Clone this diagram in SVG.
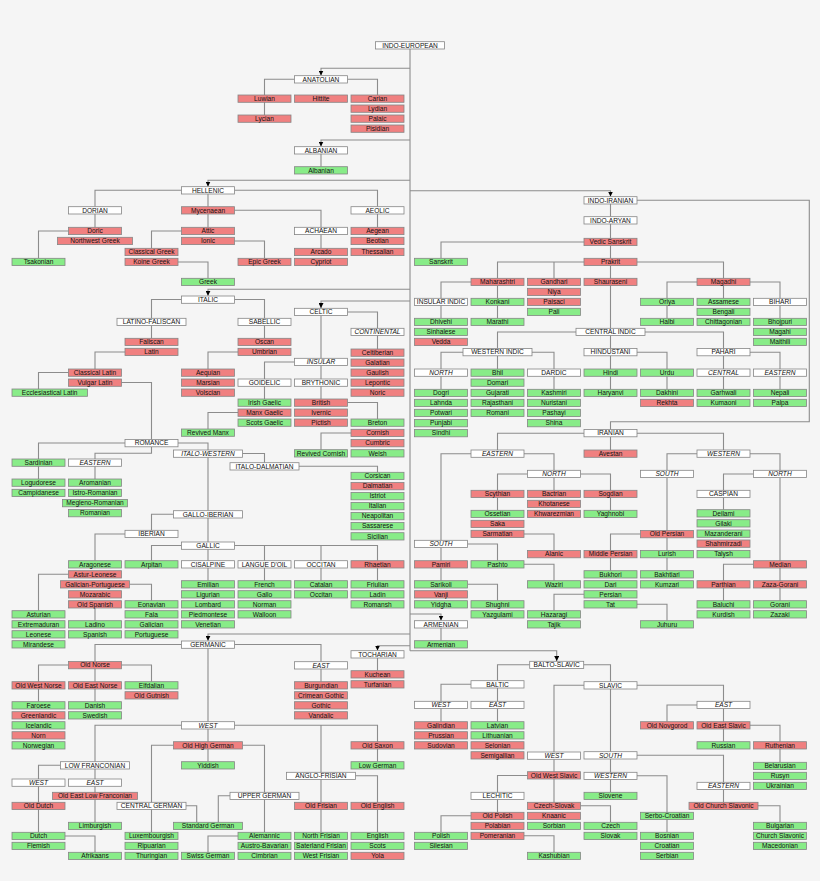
<svg xmlns="http://www.w3.org/2000/svg" width="820" height="881" viewBox="0 0 820 881">
<style>
rect.bg{fill:#f5f5f5;stroke:none}
g rect{stroke:#858585;stroke-width:.8}
.w rect{fill:#fff}
.r rect{fill:#f08080}
.g rect{fill:#88ec88}
text{font-family:"Liberation Sans",Arial,sans-serif;font-size:6.6px;text-anchor:middle;fill:#111}
.i text{font-style:italic}
.c{fill:none;stroke:#8c8c8c;stroke-width:1.1}
</style>
<defs>
<marker id="ar" viewBox="0 0 10 10" refX="10" refY="5" markerWidth="5" markerHeight="5" orient="auto" markerUnits="userSpaceOnUse"><path d="M0 0L10 5L0 10Z" fill="#000"/></marker>
</defs>
<rect class="bg" x="0" y="0" width="820" height="881"/>
<g id="connectors">
<path class="c" d="M410 49V650.7"/>
<path class="c" marker-end="url(#ar)" d="M410 68.3H321V75.5"/>
<path class="c" marker-end="url(#ar)" d="M410 140H321V146.5"/>
<path class="c" marker-end="url(#ar)" d="M410 180.3H208V186.5"/>
<path class="c" marker-end="url(#ar)" d="M410 190.7H610.5V196.5"/>
<path class="c" marker-end="url(#ar)" d="M410 289.3H208V295.8"/>
<path class="c" marker-end="url(#ar)" d="M410 301H321V308.1"/>
<path class="c" marker-end="url(#ar)" d="M410 614H441V620.5"/>
<path class="c" marker-end="url(#ar)" d="M410 634H208V640.8"/>
<path class="c" marker-end="url(#ar)" d="M410 645.7H377.5V650.5"/>
<path class="c" marker-end="url(#ar)" d="M410 650.7H556.7V661.1"/>
<path class="c" d="M294.5 79.3H264.5V115M347.5 79.3H377.5V95M321 154V166.7"/>
<path class="c" d="M181.5 190.3H95V206.7M234.5 190.3H377.5V206.7M208 194V206.7M234.5 210.3H321V227.3M208 214V227.3M95 214V227.3M68.5 231H38.5V258.3M181.5 231H151.5V248.3M234.5 241H264.5V258.3M178 262H208V278.3M321 234.6V248.3M377.5 214V227.3"/>
<path class="c" d="M637 200.3H809.3V421.7H610.5V429.5M610.5 204V216.7M610.5 224V238.3M584 242H441V258.3M610.5 245.6V258.3M584 262H497.5V278.3M554 262V278.3M637 262H723.5V278.3M610.5 265.6V389.3M471 282H441V318.3M497.5 285.6V318.3M576 332H497.5V348.5M645 332H723.5V389.3M637 352.2H667V389.3M750 352.2H780V389.3M463 352.2H441V389.3M532 352.2H554V389.3M497.5 356V369M697 282H667V318.3M723.5 285.6V298.3M750 282H780V318.3"/>
<path class="c" d="M610.5 437V450M584 433.2H497.5V450M637 433.2H723.5V450M471 453.7H441V580.7M524 453.7H554V470.3M527.5 474H497.5V510.3M554 477.6V490.3M580.5 474H610.5V510.3M524 534H554V550.5M468 544H497.5V560.7M524 564.3H554V580.7M468 584.3H497.5V600.7M697 453.7H667V470.3M750 453.7H780V470.3M667 477.6V570.7M640.5 534H610.5V570.7M584 594.3H554V610.7M637 604.3H667V620.7M753.5 474H723.5V509.7M780 477.6V600.7M753.5 564.3H723.5V600.7"/>
<path class="c" d="M441 628V640.7M377.5 658V670.7"/>
<path class="c" d="M529.7 664.8H497.5V680.7M583.7 664.8H610.5V681.7M471 684.3H441V721.7M497.5 688V721.7M584 685.3H554V802.3M637 685.3H723.5V741.7M610.5 689V792.3M697 705H667V721.7M750 725.3H780V762.3M637 755.3H723.5V802.3M637 775.7H667V832.3M758 805.7H780V822.3M527.5 775.5H497.5V812.3M580.5 805.7H610.5V822.3M471 815.7H441V832.3M524 835.7H554V852.3"/>
<path class="c" d="M181.5 299.5H151.5V318.3M234.5 299.5H264.5V318.3M151.5 325.6V338.3M125 352H95V369M68.5 372.5H38.5V389M121.5 382.5H151.5V439.5M264.5 325.6V338.3M238 352H208V369"/>
<path class="c" d="M321 315.6V399M347.5 312H377.5V349M294.5 362H264.5V399M238 412.5H208V429M347.5 402.5H377.5V419M351 433H321V449.7"/>
<path class="c" d="M125 443H38.5V479M151.5 447V453.3H95V479M178 443H208V510.7M242.5 453.5H264.5V462.7M299 466.3H377.5V472.3M173.5 514.3H151.5V530.3M208 518V580.7M125 534H95V560.7M95 608V620.7M181.5 545.5H151.5V560.7M234.5 545.5H377.5V560.7M264.5 545.5V580.7M321 545.5V580.7M377.5 568V580.7M68.5 574.3H38.5V610.7M129.5 584.3H151.5V600.7"/>
<path class="c" d="M181.5 644.5H95V661.5M234.5 644.5H321V661.7M208 648.3V721.7M68.5 665H38.5V701.7M121.5 665H151.5V681.7M95 669V701.7M321 669V681.7M181.5 725.3H95V761.7M234.5 725.3H377.5V761.7M321 725.3V832.3M355.5 775.8H377.5V832.3M208 729V761.7M173.5 745.3H151.5V832.3M242.5 745.3H264.5V832.3M230 795.8H218.3V822.3M238 836H208V852.3M186 805.8H196.7V822.3M60.5 765.3H38.5V832.3M95 769V822.3M65 836H95V852.3"/>
</g>
<g id="nodes">
<g id="n_indo_european" class="w" transform="translate(375.5 41.7)"><rect width="69" height="7.3"/><text x="34.5" y="5.9">INDO-EUROPEAN</text></g>
<g id="n_anatolian" class="w" transform="translate(294.5 75.7)"><rect width="53" height="7.3"/><text x="26.5" y="5.9">ANATOLIAN</text></g>
<g id="n_luwian" class="r" transform="translate(238 95)"><rect width="53" height="7.3"/><text x="26.5" y="5.9">Luwian</text></g>
<g id="n_hittite" class="r" transform="translate(294.5 95)"><rect width="53" height="7.3"/><text x="26.5" y="5.9">Hittite</text></g>
<g id="n_carian" class="r" transform="translate(351 95)"><rect width="53" height="7.3"/><text x="26.5" y="5.9">Carian</text></g>
<g id="n_lydian" class="r" transform="translate(351 105)"><rect width="53" height="7.3"/><text x="26.5" y="5.9">Lydian</text></g>
<g id="n_palaic" class="r" transform="translate(351 115)"><rect width="53" height="7.3"/><text x="26.5" y="5.9">Palaic</text></g>
<g id="n_pisidian" class="r" transform="translate(351 125)"><rect width="53" height="7.3"/><text x="26.5" y="5.9">Pisidian</text></g>
<g id="n_lycian" class="r" transform="translate(238 115)"><rect width="53" height="7.3"/><text x="26.5" y="5.9">Lycian</text></g>
<g id="n_albanian_br" class="w" transform="translate(294.5 146.7)"><rect width="53" height="7.3"/><text x="26.5" y="5.9">ALBANIAN</text></g>
<g id="n_albanian" class="g" transform="translate(294.5 166.7)"><rect width="53" height="7.3"/><text x="26.5" y="5.9">Albanian</text></g>
<g id="n_hellenic" class="w" transform="translate(181.5 186.7)"><rect width="53" height="7.3"/><text x="26.5" y="5.9">HELLENIC</text></g>
<g id="n_dorian" class="w" transform="translate(68.5 206.7)"><rect width="53" height="7.3"/><text x="26.5" y="5.9">DORIAN</text></g>
<g id="n_mycenaean" class="r" transform="translate(181.5 206.7)"><rect width="53" height="7.3"/><text x="26.5" y="5.9">Mycenaean</text></g>
<g id="n_aeolic" class="w" transform="translate(351 206.7)"><rect width="53" height="7.3"/><text x="26.5" y="5.9">AEOLIC</text></g>
<g id="n_doric" class="r" transform="translate(68.5 227.3)"><rect width="53" height="7.3"/><text x="26.5" y="5.9">Doric</text></g>
<g id="n_nw_greek" class="r" transform="translate(57.5 237.3)"><rect width="75" height="7.3"/><text x="37.5" y="5.9">Northwest Greek</text></g>
<g id="n_tsakonian" class="g" transform="translate(12 258.3)"><rect width="53" height="7.3"/><text x="26.5" y="5.9">Tsakonian</text></g>
<g id="n_attic" class="r" transform="translate(181.5 227.3)"><rect width="53" height="7.3"/><text x="26.5" y="5.9">Attic</text></g>
<g id="n_ionic" class="r" transform="translate(181.5 237.3)"><rect width="53" height="7.3"/><text x="26.5" y="5.9">Ionic</text></g>
<g id="n_classical_greek" class="r" transform="translate(125 248.3)"><rect width="53" height="7.3"/><text x="26.5" y="5.9">Classical Greek</text></g>
<g id="n_koine_greek" class="r" transform="translate(125 258.3)"><rect width="53" height="7.3"/><text x="26.5" y="5.9">Koine Greek</text></g>
<g id="n_epic_greek" class="r" transform="translate(238 258.3)"><rect width="53" height="7.3"/><text x="26.5" y="5.9">Epic Greek</text></g>
<g id="n_greek" class="g" transform="translate(181.5 278.3)"><rect width="53" height="7.3"/><text x="26.5" y="5.9">Greek</text></g>
<g id="n_achaean" class="w" transform="translate(294.5 227.3)"><rect width="53" height="7.3"/><text x="26.5" y="5.9">ACHAEAN</text></g>
<g id="n_arcado" class="r" transform="translate(294.5 248.3)"><rect width="53" height="7.3"/><text x="26.5" y="5.9">Arcado</text></g>
<g id="n_cypriot" class="r" transform="translate(294.5 258.3)"><rect width="53" height="7.3"/><text x="26.5" y="5.9">Cypriot</text></g>
<g id="n_aegean" class="r" transform="translate(351 227.3)"><rect width="53" height="7.3"/><text x="26.5" y="5.9">Aegean</text></g>
<g id="n_beotian" class="r" transform="translate(351 237.3)"><rect width="53" height="7.3"/><text x="26.5" y="5.9">Beotian</text></g>
<g id="n_thessalian" class="r" transform="translate(351 248.3)"><rect width="53" height="7.3"/><text x="26.5" y="5.9">Thessalian</text></g>
<g id="n_indo_iranian" class="w" transform="translate(584 196.7)"><rect width="53" height="7.3"/><text x="26.5" y="5.9">INDO-IRANIAN</text></g>
<g id="n_indo_aryan" class="w" transform="translate(584 216.7)"><rect width="53" height="7.3"/><text x="26.5" y="5.9">INDO-ARYAN</text></g>
<g id="n_vedic_sanskrit" class="r" transform="translate(584 238.3)"><rect width="53" height="7.3"/><text x="26.5" y="5.9">Vedic Sanskrit</text></g>
<g id="n_sanskrit" class="g" transform="translate(414.5 258.3)"><rect width="53" height="7.3"/><text x="26.5" y="5.9">Sanskrit</text></g>
<g id="n_prakrit" class="r" transform="translate(584 258.3)"><rect width="53" height="7.3"/><text x="26.5" y="5.9">Prakrit</text></g>
<g id="n_maharashtri" class="r" transform="translate(471 278.3)"><rect width="53" height="7.3"/><text x="26.5" y="5.9">Maharashtri</text></g>
<g id="n_gandhari" class="r" transform="translate(527.5 278.3)"><rect width="53" height="7.3"/><text x="26.5" y="5.9">Gandhari</text></g>
<g id="n_niya" class="r" transform="translate(527.5 288.3)"><rect width="53" height="7.3"/><text x="26.5" y="5.9">Niya</text></g>
<g id="n_paisaci" class="r" transform="translate(527.5 298.3)"><rect width="53" height="7.3"/><text x="26.5" y="5.9">Paisaci</text></g>
<g id="n_pali" class="g" transform="translate(527.5 308.3)"><rect width="53" height="7.3"/><text x="26.5" y="5.9">Pali</text></g>
<g id="n_shauraseni" class="r" transform="translate(584 278.3)"><rect width="53" height="7.3"/><text x="26.5" y="5.9">Shauraseni</text></g>
<g id="n_magadhi" class="r" transform="translate(697 278.3)"><rect width="53" height="7.3"/><text x="26.5" y="5.9">Magadhi</text></g>
<g id="n_insular_indic" class="w" transform="translate(414.5 298.3)"><rect width="53" height="7.3"/><text x="26.5" y="5.9">INSULAR INDIC</text></g>
<g id="n_konkani" class="g" transform="translate(471 298.3)"><rect width="53" height="7.3"/><text x="26.5" y="5.9">Konkani</text></g>
<g id="n_dhivehi" class="g" transform="translate(414.5 318.3)"><rect width="53" height="7.3"/><text x="26.5" y="5.9">Dhivehi</text></g>
<g id="n_marathi" class="g" transform="translate(471 318.3)"><rect width="53" height="7.3"/><text x="26.5" y="5.9">Marathi</text></g>
<g id="n_sinhalese" class="g" transform="translate(414.5 328.3)"><rect width="53" height="7.3"/><text x="26.5" y="5.9">Sinhalese</text></g>
<g id="n_vedda" class="r" transform="translate(414.5 338.3)"><rect width="53" height="7.3"/><text x="26.5" y="5.9">Vedda</text></g>
<g id="n_oriya" class="g" transform="translate(640.5 298.3)"><rect width="53" height="7.3"/><text x="26.5" y="5.9">Oriya</text></g>
<g id="n_halbi" class="g" transform="translate(640.5 318.3)"><rect width="53" height="7.3"/><text x="26.5" y="5.9">Halbi</text></g>
<g id="n_assamese" class="g" transform="translate(697 298.3)"><rect width="53" height="7.3"/><text x="26.5" y="5.9">Assamese</text></g>
<g id="n_bengali" class="g" transform="translate(697 308.3)"><rect width="53" height="7.3"/><text x="26.5" y="5.9">Bengali</text></g>
<g id="n_chittagonian" class="g" transform="translate(697 318.3)"><rect width="53" height="7.3"/><text x="26.5" y="5.9">Chittagonian</text></g>
<g id="n_bihari" class="w" transform="translate(753.5 298.3)"><rect width="53" height="7.3"/><text x="26.5" y="5.9">BIHARI</text></g>
<g id="n_bhojpuri" class="g" transform="translate(753.5 318.3)"><rect width="53" height="7.3"/><text x="26.5" y="5.9">Bhojpuri</text></g>
<g id="n_magahi" class="g" transform="translate(753.5 328.3)"><rect width="53" height="7.3"/><text x="26.5" y="5.9">Magahi</text></g>
<g id="n_maithili" class="g" transform="translate(753.5 338.3)"><rect width="53" height="7.3"/><text x="26.5" y="5.9">Maithili</text></g>
<g id="n_central_indic" class="w" transform="translate(576 328.3)"><rect width="69" height="7.3"/><text x="34.5" y="5.9">CENTRAL INDIC</text></g>
<g id="n_western_indic" class="w" transform="translate(463 348.5)"><rect width="69" height="7.3"/><text x="34.5" y="5.9">WESTERN INDIC</text></g>
<g id="n_hindustani" class="w" transform="translate(584 348.5)"><rect width="53" height="7.3"/><text x="26.5" y="5.9">HINDUSTANI</text></g>
<g id="n_pahari" class="w" transform="translate(697 348.5)"><rect width="53" height="7.3"/><text x="26.5" y="5.9">PAHARI</text></g>
<g id="n_north_indic" class="w i" transform="translate(414.5 369)"><rect width="53" height="7.3"/><text x="26.5" y="5.9">NORTH</text></g>
<g id="n_bhil" class="g" transform="translate(471 369)"><rect width="53" height="7.3"/><text x="26.5" y="5.9">Bhil</text></g>
<g id="n_domari" class="g" transform="translate(471 379)"><rect width="53" height="7.3"/><text x="26.5" y="5.9">Domari</text></g>
<g id="n_gujarati" class="g" transform="translate(471 389.3)"><rect width="53" height="7.3"/><text x="26.5" y="5.9">Gujarati</text></g>
<g id="n_rajasthani" class="g" transform="translate(471 399.3)"><rect width="53" height="7.3"/><text x="26.5" y="5.9">Rajasthani</text></g>
<g id="n_romani" class="g" transform="translate(471 409.3)"><rect width="53" height="7.3"/><text x="26.5" y="5.9">Romani</text></g>
<g id="n_dardic" class="w" transform="translate(527.5 369)"><rect width="53" height="7.3"/><text x="26.5" y="5.9">DARDIC</text></g>
<g id="n_kashmiri" class="g" transform="translate(527.5 389.3)"><rect width="53" height="7.3"/><text x="26.5" y="5.9">Kashmiri</text></g>
<g id="n_nuristani" class="g" transform="translate(527.5 399.3)"><rect width="53" height="7.3"/><text x="26.5" y="5.9">Nuristani</text></g>
<g id="n_pashayi" class="g" transform="translate(527.5 409.3)"><rect width="53" height="7.3"/><text x="26.5" y="5.9">Pashayi</text></g>
<g id="n_shina" class="g" transform="translate(527.5 419.5)"><rect width="53" height="7.3"/><text x="26.5" y="5.9">Shina</text></g>
<g id="n_dogri" class="g" transform="translate(414.5 389.3)"><rect width="53" height="7.3"/><text x="26.5" y="5.9">Dogri</text></g>
<g id="n_lahnda" class="g" transform="translate(414.5 399.3)"><rect width="53" height="7.3"/><text x="26.5" y="5.9">Lahnda</text></g>
<g id="n_potwari" class="g" transform="translate(414.5 409.3)"><rect width="53" height="7.3"/><text x="26.5" y="5.9">Potwari</text></g>
<g id="n_punjabi" class="g" transform="translate(414.5 419.5)"><rect width="53" height="7.3"/><text x="26.5" y="5.9">Punjabi</text></g>
<g id="n_sindhi" class="g" transform="translate(414.5 429.5)"><rect width="53" height="7.3"/><text x="26.5" y="5.9">Sindhi</text></g>
<g id="n_hindi" class="g" transform="translate(584 369)"><rect width="53" height="7.3"/><text x="26.5" y="5.9">Hindi</text></g>
<g id="n_haryanvi" class="g" transform="translate(584 389.3)"><rect width="53" height="7.3"/><text x="26.5" y="5.9">Haryanvi</text></g>
<g id="n_urdu" class="g" transform="translate(640.5 369)"><rect width="53" height="7.3"/><text x="26.5" y="5.9">Urdu</text></g>
<g id="n_dakhini" class="g" transform="translate(640.5 389.3)"><rect width="53" height="7.3"/><text x="26.5" y="5.9">Dakhini</text></g>
<g id="n_rekhta" class="r" transform="translate(640.5 399.3)"><rect width="53" height="7.3"/><text x="26.5" y="5.9">Rekhta</text></g>
<g id="n_central_pahari" class="w i" transform="translate(697 369)"><rect width="53" height="7.3"/><text x="26.5" y="5.9">CENTRAL</text></g>
<g id="n_garhwali" class="g" transform="translate(697 389.3)"><rect width="53" height="7.3"/><text x="26.5" y="5.9">Garhwali</text></g>
<g id="n_kumaoni" class="g" transform="translate(697 399.3)"><rect width="53" height="7.3"/><text x="26.5" y="5.9">Kumaoni</text></g>
<g id="n_eastern_pahari" class="w i" transform="translate(753.5 369)"><rect width="53" height="7.3"/><text x="26.5" y="5.9">EASTERN</text></g>
<g id="n_nepali" class="g" transform="translate(753.5 389.3)"><rect width="53" height="7.3"/><text x="26.5" y="5.9">Nepali</text></g>
<g id="n_palpa" class="g" transform="translate(753.5 399.3)"><rect width="53" height="7.3"/><text x="26.5" y="5.9">Palpa</text></g>
<g id="n_iranian" class="w" transform="translate(584 429.5)"><rect width="53" height="7.3"/><text x="26.5" y="5.9">IRANIAN</text></g>
<g id="n_avestan" class="r" transform="translate(584 450)"><rect width="53" height="7.3"/><text x="26.5" y="5.9">Avestan</text></g>
<g id="n_eastern_iranian" class="w i" transform="translate(471 450)"><rect width="53" height="7.3"/><text x="26.5" y="5.9">EASTERN</text></g>
<g id="n_western_iranian" class="w i" transform="translate(697 450)"><rect width="53" height="7.3"/><text x="26.5" y="5.9">WESTERN</text></g>
<g id="n_north_east_ir" class="w i" transform="translate(527.5 470.3)"><rect width="53" height="7.3"/><text x="26.5" y="5.9">NORTH</text></g>
<g id="n_scythian" class="r" transform="translate(471 490.3)"><rect width="53" height="7.3"/><text x="26.5" y="5.9">Scythian</text></g>
<g id="n_ossetian" class="g" transform="translate(471 510.3)"><rect width="53" height="7.3"/><text x="26.5" y="5.9">Ossetian</text></g>
<g id="n_saka" class="r" transform="translate(471 520.3)"><rect width="53" height="7.3"/><text x="26.5" y="5.9">Saka</text></g>
<g id="n_sarmatian" class="r" transform="translate(471 530.3)"><rect width="53" height="7.3"/><text x="26.5" y="5.9">Sarmatian</text></g>
<g id="n_bactrian" class="r" transform="translate(527.5 490.3)"><rect width="53" height="7.3"/><text x="26.5" y="5.9">Bactrian</text></g>
<g id="n_khotanese" class="r" transform="translate(527.5 500.3)"><rect width="53" height="7.3"/><text x="26.5" y="5.9">Khotanese</text></g>
<g id="n_khwarezmian" class="r" transform="translate(527.5 510.3)"><rect width="53" height="7.3"/><text x="26.5" y="5.9">Khwarezmian</text></g>
<g id="n_alanic" class="r" transform="translate(527.5 550.5)"><rect width="53" height="7.3"/><text x="26.5" y="5.9">Alanic</text></g>
<g id="n_sogdian" class="r" transform="translate(584 490.3)"><rect width="53" height="7.3"/><text x="26.5" y="5.9">Sogdian</text></g>
<g id="n_yaghnobi" class="g" transform="translate(584 510.3)"><rect width="53" height="7.3"/><text x="26.5" y="5.9">Yaghnobi</text></g>
<g id="n_south_east_ir" class="w i" transform="translate(414.5 540.3)"><rect width="53" height="7.3"/><text x="26.5" y="5.9">SOUTH</text></g>
<g id="n_pamiri" class="r" transform="translate(414.5 560.7)"><rect width="53" height="7.3"/><text x="26.5" y="5.9">Pamiri</text></g>
<g id="n_sarikoli" class="g" transform="translate(414.5 580.7)"><rect width="53" height="7.3"/><text x="26.5" y="5.9">Sarikoli</text></g>
<g id="n_vanji" class="r" transform="translate(414.5 590.7)"><rect width="53" height="7.3"/><text x="26.5" y="5.9">Vanji</text></g>
<g id="n_yidgha" class="g" transform="translate(414.5 600.7)"><rect width="53" height="7.3"/><text x="26.5" y="5.9">Yidgha</text></g>
<g id="n_pashto" class="g" transform="translate(471 560.7)"><rect width="53" height="7.3"/><text x="26.5" y="5.9">Pashto</text></g>
<g id="n_shughni" class="g" transform="translate(471 600.7)"><rect width="53" height="7.3"/><text x="26.5" y="5.9">Shughni</text></g>
<g id="n_yazgulami" class="g" transform="translate(471 610.7)"><rect width="53" height="7.3"/><text x="26.5" y="5.9">Yazgulami</text></g>
<g id="n_waziri" class="g" transform="translate(527.5 580.7)"><rect width="53" height="7.3"/><text x="26.5" y="5.9">Waziri</text></g>
<g id="n_south_west_ir" class="w i" transform="translate(640.5 470.3)"><rect width="53" height="7.3"/><text x="26.5" y="5.9">SOUTH</text></g>
<g id="n_old_persian" class="r" transform="translate(640.5 530.5)"><rect width="53" height="7.3"/><text x="26.5" y="5.9">Old Persian</text></g>
<g id="n_lurish" class="g" transform="translate(640.5 550.5)"><rect width="53" height="7.3"/><text x="26.5" y="5.9">Lurish</text></g>
<g id="n_bakhtiari" class="g" transform="translate(640.5 570.7)"><rect width="53" height="7.3"/><text x="26.5" y="5.9">Bakhtiari</text></g>
<g id="n_kumzari" class="g" transform="translate(640.5 580.7)"><rect width="53" height="7.3"/><text x="26.5" y="5.9">Kumzari</text></g>
<g id="n_juhuru" class="g" transform="translate(640.5 620.7)"><rect width="53" height="7.3"/><text x="26.5" y="5.9">Juhuru</text></g>
<g id="n_middle_persian" class="r" transform="translate(584 550.5)"><rect width="53" height="7.3"/><text x="26.5" y="5.9">Middle Persian</text></g>
<g id="n_bukhori" class="g" transform="translate(584 570.7)"><rect width="53" height="7.3"/><text x="26.5" y="5.9">Bukhori</text></g>
<g id="n_dari" class="g" transform="translate(584 580.7)"><rect width="53" height="7.3"/><text x="26.5" y="5.9">Dari</text></g>
<g id="n_persian" class="g" transform="translate(584 590.7)"><rect width="53" height="7.3"/><text x="26.5" y="5.9">Persian</text></g>
<g id="n_tat" class="g" transform="translate(584 600.7)"><rect width="53" height="7.3"/><text x="26.5" y="5.9">Tat</text></g>
<g id="n_hazaragi" class="g" transform="translate(527.5 610.7)"><rect width="53" height="7.3"/><text x="26.5" y="5.9">Hazaragi</text></g>
<g id="n_tajik" class="g" transform="translate(527.5 620.7)"><rect width="53" height="7.3"/><text x="26.5" y="5.9">Tajik</text></g>
<g id="n_north_west_ir" class="w i" transform="translate(753.5 470.3)"><rect width="53" height="7.3"/><text x="26.5" y="5.9">NORTH</text></g>
<g id="n_caspian" class="w" transform="translate(697 490.3)"><rect width="53" height="7.3"/><text x="26.5" y="5.9">CASPIAN</text></g>
<g id="n_deilami" class="g" transform="translate(697 509.7)"><rect width="53" height="7.3"/><text x="26.5" y="5.9">Deilami</text></g>
<g id="n_gilaki" class="g" transform="translate(697 519.7)"><rect width="53" height="7.3"/><text x="26.5" y="5.9">Gilaki</text></g>
<g id="n_mazanderani" class="g" transform="translate(697 530)"><rect width="53" height="7.3"/><text x="26.5" y="5.9">Mazanderani</text></g>
<g id="n_shahmirzadi" class="r" transform="translate(697 540)"><rect width="53" height="7.3"/><text x="26.5" y="5.9">Shahmirzadi</text></g>
<g id="n_talysh" class="g" transform="translate(697 550.5)"><rect width="53" height="7.3"/><text x="26.5" y="5.9">Talysh</text></g>
<g id="n_median" class="r" transform="translate(753.5 560.7)"><rect width="53" height="7.3"/><text x="26.5" y="5.9">Median</text></g>
<g id="n_parthian" class="r" transform="translate(697 580.7)"><rect width="53" height="7.3"/><text x="26.5" y="5.9">Parthian</text></g>
<g id="n_zaza_gorani" class="r" transform="translate(753.5 580.7)"><rect width="53" height="7.3"/><text x="26.5" y="5.9">Zaza-Gorani</text></g>
<g id="n_baluchi" class="g" transform="translate(697 600.7)"><rect width="53" height="7.3"/><text x="26.5" y="5.9">Baluchi</text></g>
<g id="n_kurdish" class="g" transform="translate(697 610.7)"><rect width="53" height="7.3"/><text x="26.5" y="5.9">Kurdish</text></g>
<g id="n_gorani" class="g" transform="translate(753.5 600.7)"><rect width="53" height="7.3"/><text x="26.5" y="5.9">Gorani</text></g>
<g id="n_zazaki" class="g" transform="translate(753.5 610.7)"><rect width="53" height="7.3"/><text x="26.5" y="5.9">Zazaki</text></g>
<g id="n_armenian_br" class="w" transform="translate(414.5 620.7)"><rect width="53" height="7.3"/><text x="26.5" y="5.9">ARMENIAN</text></g>
<g id="n_armenian" class="g" transform="translate(414.5 640.7)"><rect width="53" height="7.3"/><text x="26.5" y="5.9">Armenian</text></g>
<g id="n_italic" class="w" transform="translate(181.5 296)"><rect width="53" height="7.3"/><text x="26.5" y="5.9">ITALIC</text></g>
<g id="n_latino_faliscan" class="w" transform="translate(117 318.3)"><rect width="69" height="7.3"/><text x="34.5" y="5.9">LATINO-FALISCAN</text></g>
<g id="n_sabellic" class="w" transform="translate(238 318.3)"><rect width="53" height="7.3"/><text x="26.5" y="5.9">SABELLIC</text></g>
<g id="n_faliscan" class="r" transform="translate(125 338.3)"><rect width="53" height="7.3"/><text x="26.5" y="5.9">Faliscan</text></g>
<g id="n_latin" class="r" transform="translate(125 348.3)"><rect width="53" height="7.3"/><text x="26.5" y="5.9">Latin</text></g>
<g id="n_classical_latin" class="r" transform="translate(68.5 369)"><rect width="53" height="7.3"/><text x="26.5" y="5.9">Classical Latin</text></g>
<g id="n_vulgar_latin" class="r" transform="translate(68.5 379)"><rect width="53" height="7.3"/><text x="26.5" y="5.9">Vulgar Latin</text></g>
<g id="n_ecclesiastical_latin" class="g" transform="translate(12 389)"><rect width="75.5" height="7.3"/><text x="37.7" y="5.9">Ecclesiastical Latin</text></g>
<g id="n_oscan" class="r" transform="translate(238 338.3)"><rect width="53" height="7.3"/><text x="26.5" y="5.9">Oscan</text></g>
<g id="n_umbrian" class="r" transform="translate(238 348.3)"><rect width="53" height="7.3"/><text x="26.5" y="5.9">Umbrian</text></g>
<g id="n_aequian" class="r" transform="translate(181.5 369)"><rect width="53" height="7.3"/><text x="26.5" y="5.9">Aequian</text></g>
<g id="n_marsian" class="r" transform="translate(181.5 379)"><rect width="53" height="7.3"/><text x="26.5" y="5.9">Marsian</text></g>
<g id="n_volscian" class="r" transform="translate(181.5 389)"><rect width="53" height="7.3"/><text x="26.5" y="5.9">Volscian</text></g>
<g id="n_celtic" class="w" transform="translate(294.5 308.3)"><rect width="53" height="7.3"/><text x="26.5" y="5.9">CELTIC</text></g>
<g id="n_continental" class="w i" transform="translate(351 328.3)"><rect width="53" height="7.3"/><text x="26.5" y="5.9">CONTINENTAL</text></g>
<g id="n_celtiberian" class="r" transform="translate(351 349)"><rect width="53" height="7.3"/><text x="26.5" y="5.9">Celtiberian</text></g>
<g id="n_galatian" class="r" transform="translate(351 359)"><rect width="53" height="7.3"/><text x="26.5" y="5.9">Galatian</text></g>
<g id="n_gaulish" class="r" transform="translate(351 369)"><rect width="53" height="7.3"/><text x="26.5" y="5.9">Gaulish</text></g>
<g id="n_lepontic" class="r" transform="translate(351 379)"><rect width="53" height="7.3"/><text x="26.5" y="5.9">Lepontic</text></g>
<g id="n_noric" class="r" transform="translate(351 389)"><rect width="53" height="7.3"/><text x="26.5" y="5.9">Noric</text></g>
<g id="n_insular" class="w i" transform="translate(294.5 358.3)"><rect width="53" height="7.3"/><text x="26.5" y="5.9">INSULAR</text></g>
<g id="n_goidelic" class="w" transform="translate(238 379)"><rect width="53" height="7.3"/><text x="26.5" y="5.9">GOIDELIC</text></g>
<g id="n_irish_gaelic" class="g" transform="translate(238 399)"><rect width="53" height="7.3"/><text x="26.5" y="5.9">Irish Gaelic</text></g>
<g id="n_manx_gaelic" class="r" transform="translate(238 409)"><rect width="53" height="7.3"/><text x="26.5" y="5.9">Manx Gaelic</text></g>
<g id="n_scots_gaelic" class="g" transform="translate(238 419)"><rect width="53" height="7.3"/><text x="26.5" y="5.9">Scots Gaelic</text></g>
<g id="n_revived_manx" class="g" transform="translate(181.5 429)"><rect width="53" height="7.3"/><text x="26.5" y="5.9">Revived Manx</text></g>
<g id="n_brythonic" class="w" transform="translate(294.5 379)"><rect width="53" height="7.3"/><text x="26.5" y="5.9">BRYTHONIC</text></g>
<g id="n_british" class="r" transform="translate(294.5 399)"><rect width="53" height="7.3"/><text x="26.5" y="5.9">British</text></g>
<g id="n_ivernic" class="r" transform="translate(294.5 409)"><rect width="53" height="7.3"/><text x="26.5" y="5.9">Ivernic</text></g>
<g id="n_pictish" class="r" transform="translate(294.5 419)"><rect width="53" height="7.3"/><text x="26.5" y="5.9">Pictish</text></g>
<g id="n_breton" class="g" transform="translate(351 419)"><rect width="53" height="7.3"/><text x="26.5" y="5.9">Breton</text></g>
<g id="n_cornish" class="r" transform="translate(351 429.3)"><rect width="53" height="7.3"/><text x="26.5" y="5.9">Cornish</text></g>
<g id="n_cumbric" class="r" transform="translate(351 439.5)"><rect width="53" height="7.3"/><text x="26.5" y="5.9">Cumbric</text></g>
<g id="n_welsh" class="g" transform="translate(351 449.7)"><rect width="53" height="7.3"/><text x="26.5" y="5.9">Welsh</text></g>
<g id="n_revived_cornish" class="g" transform="translate(294.5 449.7)"><rect width="53" height="7.3"/><text x="26.5" y="5.9">Revived Cornish</text></g>
<g id="n_romance" class="w" transform="translate(125 439.5)"><rect width="53" height="7.3"/><text x="26.5" y="5.9">ROMANCE</text></g>
<g id="n_sardinian" class="g" transform="translate(12 459)"><rect width="53" height="7.3"/><text x="26.5" y="5.9">Sardinian</text></g>
<g id="n_logudorese" class="g" transform="translate(12 479)"><rect width="53" height="7.3"/><text x="26.5" y="5.9">Logudorese</text></g>
<g id="n_campidanese" class="g" transform="translate(12 489.3)"><rect width="53" height="7.3"/><text x="26.5" y="5.9">Campidanese</text></g>
<g id="n_eastern_romance" class="w i" transform="translate(68.5 459)"><rect width="53" height="7.3"/><text x="26.5" y="5.9">EASTERN</text></g>
<g id="n_aromanian" class="g" transform="translate(68.5 479)"><rect width="53" height="7.3"/><text x="26.5" y="5.9">Aromanian</text></g>
<g id="n_istro_romanian" class="g" transform="translate(68.5 489.3)"><rect width="53" height="7.3"/><text x="26.5" y="5.9">Istro-Romanian</text></g>
<g id="n_megleno_romanian" class="g" transform="translate(62.5 499.5)"><rect width="65" height="7.3"/><text x="32.5" y="5.9">Megleno-Romanian</text></g>
<g id="n_romanian" class="g" transform="translate(68.5 509.5)"><rect width="53" height="7.3"/><text x="26.5" y="5.9">Romanian</text></g>
<g id="n_italo_western" class="w i" transform="translate(173.5 450)"><rect width="69" height="7.3"/><text x="34.5" y="5.9">ITALO-WESTERN</text></g>
<g id="n_italo_dalmatian" class="w" transform="translate(230 462.7)"><rect width="69" height="7.3"/><text x="34.5" y="5.9">ITALO-DALMATIAN</text></g>
<g id="n_corsican" class="g" transform="translate(351 472.3)"><rect width="53" height="7.3"/><text x="26.5" y="5.9">Corsican</text></g>
<g id="n_dalmatian" class="r" transform="translate(351 482.5)"><rect width="53" height="7.3"/><text x="26.5" y="5.9">Dalmatian</text></g>
<g id="n_istriot" class="g" transform="translate(351 492.5)"><rect width="53" height="7.3"/><text x="26.5" y="5.9">Istriot</text></g>
<g id="n_italian" class="g" transform="translate(351 502.5)"><rect width="53" height="7.3"/><text x="26.5" y="5.9">Italian</text></g>
<g id="n_neapolitan" class="g" transform="translate(351 512.5)"><rect width="53" height="7.3"/><text x="26.5" y="5.9">Neapolitan</text></g>
<g id="n_sassarese" class="g" transform="translate(351 522.5)"><rect width="53" height="7.3"/><text x="26.5" y="5.9">Sassarese</text></g>
<g id="n_sicilian" class="g" transform="translate(351 532.7)"><rect width="53" height="7.3"/><text x="26.5" y="5.9">Sicilian</text></g>
<g id="n_gallo_iberian" class="w" transform="translate(173.5 510.7)"><rect width="69" height="7.3"/><text x="34.5" y="5.9">GALLO-IBERIAN</text></g>
<g id="n_iberian" class="w" transform="translate(125 530.3)"><rect width="53" height="7.3"/><text x="26.5" y="5.9">IBERIAN</text></g>
<g id="n_gallic" class="w" transform="translate(181.5 542)"><rect width="53" height="7.3"/><text x="26.5" y="5.9">GALLIC</text></g>
<g id="n_aragonese" class="g" transform="translate(68.5 560.7)"><rect width="53" height="7.3"/><text x="26.5" y="5.9">Aragonese</text></g>
<g id="n_arpitan" class="g" transform="translate(125 560.7)"><rect width="53" height="7.3"/><text x="26.5" y="5.9">Arpitan</text></g>
<g id="n_cisalpine" class="w" transform="translate(181.5 560.7)"><rect width="53" height="7.3"/><text x="26.5" y="5.9">CISALPINE</text></g>
<g id="n_langue_doil" class="w" transform="translate(238 560.7)"><rect width="53" height="7.3"/><text x="26.5" y="5.9">LANGUE D'OIL</text></g>
<g id="n_occitan_br" class="w" transform="translate(294.5 560.7)"><rect width="53" height="7.3"/><text x="26.5" y="5.9">OCCITAN</text></g>
<g id="n_rhaetian" class="r" transform="translate(351 560.7)"><rect width="53" height="7.3"/><text x="26.5" y="5.9">Rhaetian</text></g>
<g id="n_astur_leonese" class="r" transform="translate(68.5 570.7)"><rect width="53" height="7.3"/><text x="26.5" y="5.9">Astur-Leonese</text></g>
<g id="n_galician_portuguese" class="r" transform="translate(60.5 580.7)"><rect width="69" height="7.3"/><text x="34.5" y="5.9">Galician-Portuguese</text></g>
<g id="n_mozarabic" class="r" transform="translate(68.5 590.7)"><rect width="53" height="7.3"/><text x="26.5" y="5.9">Mozarabic</text></g>
<g id="n_old_spanish" class="r" transform="translate(68.5 600.7)"><rect width="53" height="7.3"/><text x="26.5" y="5.9">Old Spanish</text></g>
<g id="n_asturian" class="g" transform="translate(12 610.7)"><rect width="53" height="7.3"/><text x="26.5" y="5.9">Asturian</text></g>
<g id="n_extremaduran" class="g" transform="translate(12 620.7)"><rect width="53" height="7.3"/><text x="26.5" y="5.9">Extremaduran</text></g>
<g id="n_leonese" class="g" transform="translate(12 630.7)"><rect width="53" height="7.3"/><text x="26.5" y="5.9">Leonese</text></g>
<g id="n_mirandese" class="g" transform="translate(12 640.7)"><rect width="53" height="7.3"/><text x="26.5" y="5.9">Mirandese</text></g>
<g id="n_eonavian" class="g" transform="translate(125 600.7)"><rect width="53" height="7.3"/><text x="26.5" y="5.9">Eonavian</text></g>
<g id="n_fala" class="g" transform="translate(125 610.7)"><rect width="53" height="7.3"/><text x="26.5" y="5.9">Fala</text></g>
<g id="n_galician" class="g" transform="translate(125 620.7)"><rect width="53" height="7.3"/><text x="26.5" y="5.9">Galician</text></g>
<g id="n_portuguese" class="g" transform="translate(125 630.7)"><rect width="53" height="7.3"/><text x="26.5" y="5.9">Portuguese</text></g>
<g id="n_ladino" class="g" transform="translate(68.5 620.7)"><rect width="53" height="7.3"/><text x="26.5" y="5.9">Ladino</text></g>
<g id="n_spanish" class="g" transform="translate(68.5 630.7)"><rect width="53" height="7.3"/><text x="26.5" y="5.9">Spanish</text></g>
<g id="n_emilian" class="g" transform="translate(181.5 580.7)"><rect width="53" height="7.3"/><text x="26.5" y="5.9">Emilian</text></g>
<g id="n_ligurian" class="g" transform="translate(181.5 590.7)"><rect width="53" height="7.3"/><text x="26.5" y="5.9">Ligurian</text></g>
<g id="n_lombard" class="g" transform="translate(181.5 600.7)"><rect width="53" height="7.3"/><text x="26.5" y="5.9">Lombard</text></g>
<g id="n_piedmontese" class="g" transform="translate(181.5 610.7)"><rect width="53" height="7.3"/><text x="26.5" y="5.9">Piedmontese</text></g>
<g id="n_venetian" class="g" transform="translate(181.5 620.7)"><rect width="53" height="7.3"/><text x="26.5" y="5.9">Venetian</text></g>
<g id="n_french" class="g" transform="translate(238 580.7)"><rect width="53" height="7.3"/><text x="26.5" y="5.9">French</text></g>
<g id="n_gallo" class="g" transform="translate(238 590.7)"><rect width="53" height="7.3"/><text x="26.5" y="5.9">Gallo</text></g>
<g id="n_norman" class="g" transform="translate(238 600.7)"><rect width="53" height="7.3"/><text x="26.5" y="5.9">Norman</text></g>
<g id="n_walloon" class="g" transform="translate(238 610.7)"><rect width="53" height="7.3"/><text x="26.5" y="5.9">Walloon</text></g>
<g id="n_catalan" class="g" transform="translate(294.5 580.7)"><rect width="53" height="7.3"/><text x="26.5" y="5.9">Catalan</text></g>
<g id="n_occitan" class="g" transform="translate(294.5 590.7)"><rect width="53" height="7.3"/><text x="26.5" y="5.9">Occitan</text></g>
<g id="n_friulian" class="g" transform="translate(351 580.7)"><rect width="53" height="7.3"/><text x="26.5" y="5.9">Friulian</text></g>
<g id="n_ladin" class="g" transform="translate(351 590.7)"><rect width="53" height="7.3"/><text x="26.5" y="5.9">Ladin</text></g>
<g id="n_romansh" class="g" transform="translate(351 600.7)"><rect width="53" height="7.3"/><text x="26.5" y="5.9">Romansh</text></g>
<g id="n_germanic" class="w" transform="translate(181.5 641)"><rect width="53" height="7.3"/><text x="26.5" y="5.9">GERMANIC</text></g>
<g id="n_old_norse" class="r" transform="translate(68.5 661.5)"><rect width="53" height="7.3"/><text x="26.5" y="5.9">Old Norse</text></g>
<g id="n_old_west_norse" class="r" transform="translate(12 681.7)"><rect width="53" height="7.3"/><text x="26.5" y="5.9">Old West Norse</text></g>
<g id="n_old_east_norse" class="r" transform="translate(68.5 681.7)"><rect width="53" height="7.3"/><text x="26.5" y="5.9">Old East Norse</text></g>
<g id="n_elfdalian" class="g" transform="translate(125 681.7)"><rect width="53" height="7.3"/><text x="26.5" y="5.9">Elfdalian</text></g>
<g id="n_old_gutnish" class="r" transform="translate(125 691.7)"><rect width="53" height="7.3"/><text x="26.5" y="5.9">Old Gutnish</text></g>
<g id="n_faroese" class="g" transform="translate(12 701.7)"><rect width="53" height="7.3"/><text x="26.5" y="5.9">Faroese</text></g>
<g id="n_greenlandic" class="r" transform="translate(12 711.7)"><rect width="53" height="7.3"/><text x="26.5" y="5.9">Greenlandic</text></g>
<g id="n_icelandic" class="g" transform="translate(12 721.7)"><rect width="53" height="7.3"/><text x="26.5" y="5.9">Icelandic</text></g>
<g id="n_norn" class="r" transform="translate(12 731.7)"><rect width="53" height="7.3"/><text x="26.5" y="5.9">Norn</text></g>
<g id="n_norwegian" class="g" transform="translate(12 741.7)"><rect width="53" height="7.3"/><text x="26.5" y="5.9">Norwegian</text></g>
<g id="n_danish" class="g" transform="translate(68.5 701.7)"><rect width="53" height="7.3"/><text x="26.5" y="5.9">Danish</text></g>
<g id="n_swedish" class="g" transform="translate(68.5 711.7)"><rect width="53" height="7.3"/><text x="26.5" y="5.9">Swedish</text></g>
<g id="n_east_germanic" class="w i" transform="translate(294.5 661.7)"><rect width="53" height="7.3"/><text x="26.5" y="5.9">EAST</text></g>
<g id="n_burgundian" class="r" transform="translate(294.5 681.7)"><rect width="53" height="7.3"/><text x="26.5" y="5.9">Burgundian</text></g>
<g id="n_crimean_gothic" class="r" transform="translate(294.5 691.7)"><rect width="53" height="7.3"/><text x="26.5" y="5.9">Crimean Gothic</text></g>
<g id="n_gothic" class="r" transform="translate(294.5 701.7)"><rect width="53" height="7.3"/><text x="26.5" y="5.9">Gothic</text></g>
<g id="n_vandalic" class="r" transform="translate(294.5 711.7)"><rect width="53" height="7.3"/><text x="26.5" y="5.9">Vandalic</text></g>
<g id="n_west_germanic" class="w i" transform="translate(181.5 721.7)"><rect width="53" height="7.3"/><text x="26.5" y="5.9">WEST</text></g>
<g id="n_old_high_german" class="r" transform="translate(173.5 741.7)"><rect width="69" height="7.3"/><text x="34.5" y="5.9">Old High German</text></g>
<g id="n_yiddish" class="g" transform="translate(181.5 761.7)"><rect width="53" height="7.3"/><text x="26.5" y="5.9">Yiddish</text></g>
<g id="n_old_saxon" class="r" transform="translate(351 741.7)"><rect width="53" height="7.3"/><text x="26.5" y="5.9">Old Saxon</text></g>
<g id="n_low_german" class="g" transform="translate(351 761.7)"><rect width="53" height="7.3"/><text x="26.5" y="5.9">Low German</text></g>
<g id="n_low_franconian" class="w" transform="translate(60.5 761.7)"><rect width="69" height="7.3"/><text x="34.5" y="5.9">LOW FRANCONIAN</text></g>
<g id="n_west_lf" class="w i" transform="translate(12 779)"><rect width="53" height="7.3"/><text x="26.5" y="5.9">WEST</text></g>
<g id="n_east_lf" class="w i" transform="translate(68.5 779)"><rect width="53" height="7.3"/><text x="26.5" y="5.9">EAST</text></g>
<g id="n_old_east_low_franconian" class="r" transform="translate(52.5 792.3)"><rect width="85" height="7.3"/><text x="42.5" y="5.9">Old East Low Franconian</text></g>
<g id="n_old_dutch" class="r" transform="translate(12 802.3)"><rect width="53" height="7.3"/><text x="26.5" y="5.9">Old Dutch</text></g>
<g id="n_limburgish" class="g" transform="translate(68.5 822.3)"><rect width="53" height="7.3"/><text x="26.5" y="5.9">Limburgish</text></g>
<g id="n_dutch" class="g" transform="translate(12 832.3)"><rect width="53" height="7.3"/><text x="26.5" y="5.9">Dutch</text></g>
<g id="n_flemish" class="g" transform="translate(12 842.3)"><rect width="53" height="7.3"/><text x="26.5" y="5.9">Flemish</text></g>
<g id="n_afrikaans" class="g" transform="translate(68.5 852.3)"><rect width="53" height="7.3"/><text x="26.5" y="5.9">Afrikaans</text></g>
<g id="n_central_german" class="w" transform="translate(117 802.3)"><rect width="69" height="7.3"/><text x="34.5" y="5.9">CENTRAL GERMAN</text></g>
<g id="n_upper_german" class="w" transform="translate(230 792.3)"><rect width="69" height="7.3"/><text x="34.5" y="5.9">UPPER GERMAN</text></g>
<g id="n_standard_german" class="g" transform="translate(173.5 822.3)"><rect width="69" height="7.3"/><text x="34.5" y="5.9">Standard German</text></g>
<g id="n_luxembourgish" class="g" transform="translate(125 832.3)"><rect width="53" height="7.3"/><text x="26.5" y="5.9">Luxembourgish</text></g>
<g id="n_ripuarian" class="g" transform="translate(125 842.3)"><rect width="53" height="7.3"/><text x="26.5" y="5.9">Ripuarian</text></g>
<g id="n_thuringian" class="g" transform="translate(125 852.3)"><rect width="53" height="7.3"/><text x="26.5" y="5.9">Thuringian</text></g>
<g id="n_alemannic" class="g" transform="translate(238 832.3)"><rect width="53" height="7.3"/><text x="26.5" y="5.9">Alemannic</text></g>
<g id="n_austro_bavarian" class="g" transform="translate(238 842.3)"><rect width="53" height="7.3"/><text x="26.5" y="5.9">Austro-Bavarian</text></g>
<g id="n_cimbrian" class="g" transform="translate(238 852.3)"><rect width="53" height="7.3"/><text x="26.5" y="5.9">Cimbrian</text></g>
<g id="n_swiss_german" class="g" transform="translate(181.5 852.3)"><rect width="53" height="7.3"/><text x="26.5" y="5.9">Swiss German</text></g>
<g id="n_anglo_frisian" class="w" transform="translate(286.5 772.3)"><rect width="69" height="7.3"/><text x="34.5" y="5.9">ANGLO-FRISIAN</text></g>
<g id="n_old_frisian" class="r" transform="translate(294.5 802.3)"><rect width="53" height="7.3"/><text x="26.5" y="5.9">Old Frisian</text></g>
<g id="n_north_frisian" class="g" transform="translate(294.5 832.3)"><rect width="53" height="7.3"/><text x="26.5" y="5.9">North Frisian</text></g>
<g id="n_saterland_frisian" class="g" transform="translate(294.5 842.3)"><rect width="53" height="7.3"/><text x="26.5" y="5.9">Saterland Frisian</text></g>
<g id="n_west_frisian" class="g" transform="translate(294.5 852.3)"><rect width="53" height="7.3"/><text x="26.5" y="5.9">West Frisian</text></g>
<g id="n_old_english" class="r" transform="translate(351 802.3)"><rect width="53" height="7.3"/><text x="26.5" y="5.9">Old English</text></g>
<g id="n_english" class="g" transform="translate(351 832.3)"><rect width="53" height="7.3"/><text x="26.5" y="5.9">English</text></g>
<g id="n_scots" class="g" transform="translate(351 842.3)"><rect width="53" height="7.3"/><text x="26.5" y="5.9">Scots</text></g>
<g id="n_yola" class="r" transform="translate(351 852.3)"><rect width="53" height="7.3"/><text x="26.5" y="5.9">Yola</text></g>
<g id="n_tocharian" class="w" transform="translate(351 650.7)"><rect width="53" height="7.3"/><text x="26.5" y="5.9">TOCHARIAN</text></g>
<g id="n_kuchean" class="r" transform="translate(351 670.7)"><rect width="53" height="7.3"/><text x="26.5" y="5.9">Kuchean</text></g>
<g id="n_turfanian" class="r" transform="translate(351 680.7)"><rect width="53" height="7.3"/><text x="26.5" y="5.9">Turfanian</text></g>
<g id="n_balto_slavic" class="w" transform="translate(529.7 661.3)"><rect width="54" height="7.3"/><text x="27" y="5.9">BALTO-SLAVIC</text></g>
<g id="n_baltic" class="w" transform="translate(471 680.7)"><rect width="53" height="7.3"/><text x="26.5" y="5.9">BALTIC</text></g>
<g id="n_west_baltic" class="w i" transform="translate(414.5 701.3)"><rect width="53" height="7.3"/><text x="26.5" y="5.9">WEST</text></g>
<g id="n_east_baltic" class="w i" transform="translate(471 701.3)"><rect width="53" height="7.3"/><text x="26.5" y="5.9">EAST</text></g>
<g id="n_galindian" class="r" transform="translate(414.5 721.7)"><rect width="53" height="7.3"/><text x="26.5" y="5.9">Galindian</text></g>
<g id="n_prussian" class="r" transform="translate(414.5 731.7)"><rect width="53" height="7.3"/><text x="26.5" y="5.9">Prussian</text></g>
<g id="n_sudovian" class="r" transform="translate(414.5 741.7)"><rect width="53" height="7.3"/><text x="26.5" y="5.9">Sudovian</text></g>
<g id="n_latvian" class="g" transform="translate(471 721.7)"><rect width="53" height="7.3"/><text x="26.5" y="5.9">Latvian</text></g>
<g id="n_lithuanian" class="g" transform="translate(471 731.7)"><rect width="53" height="7.3"/><text x="26.5" y="5.9">Lithuanian</text></g>
<g id="n_selonian" class="r" transform="translate(471 741.7)"><rect width="53" height="7.3"/><text x="26.5" y="5.9">Selonian</text></g>
<g id="n_semigallian" class="r" transform="translate(471 751.7)"><rect width="53" height="7.3"/><text x="26.5" y="5.9">Semigallian</text></g>
<g id="n_slavic" class="w" transform="translate(584 681.7)"><rect width="53" height="7.3"/><text x="26.5" y="5.9">SLAVIC</text></g>
<g id="n_east_slavic" class="w i" transform="translate(697 701.3)"><rect width="53" height="7.3"/><text x="26.5" y="5.9">EAST</text></g>
<g id="n_old_novgorod" class="r" transform="translate(640.5 721.7)"><rect width="53" height="7.3"/><text x="26.5" y="5.9">Old Novgorod</text></g>
<g id="n_old_east_slavic" class="r" transform="translate(697 721.7)"><rect width="53" height="7.3"/><text x="26.5" y="5.9">Old East Slavic</text></g>
<g id="n_russian" class="g" transform="translate(697 741.7)"><rect width="53" height="7.3"/><text x="26.5" y="5.9">Russian</text></g>
<g id="n_ruthenian" class="r" transform="translate(753.5 741.7)"><rect width="53" height="7.3"/><text x="26.5" y="5.9">Ruthenian</text></g>
<g id="n_belarusian" class="g" transform="translate(753.5 762.3)"><rect width="53" height="7.3"/><text x="26.5" y="5.9">Belarusian</text></g>
<g id="n_rusyn" class="g" transform="translate(753.5 772.3)"><rect width="53" height="7.3"/><text x="26.5" y="5.9">Rusyn</text></g>
<g id="n_ukrainian" class="g" transform="translate(753.5 782.3)"><rect width="53" height="7.3"/><text x="26.5" y="5.9">Ukrainian</text></g>
<g id="n_west_slavic" class="w i" transform="translate(527.5 752)"><rect width="53" height="7.3"/><text x="26.5" y="5.9">WEST</text></g>
<g id="n_south_slavic" class="w i" transform="translate(584 751.7)"><rect width="53" height="7.3"/><text x="26.5" y="5.9">SOUTH</text></g>
<g id="n_old_west_slavic" class="r" transform="translate(527.5 771.7)"><rect width="53" height="7.3"/><text x="26.5" y="5.9">Old West Slavic</text></g>
<g id="n_lechitic" class="w" transform="translate(471 792.3)"><rect width="53" height="7.3"/><text x="26.5" y="5.9">LECHITIC</text></g>
<g id="n_old_polish" class="r" transform="translate(471 812.3)"><rect width="53" height="7.3"/><text x="26.5" y="5.9">Old Polish</text></g>
<g id="n_polabian" class="r" transform="translate(471 822.3)"><rect width="53" height="7.3"/><text x="26.5" y="5.9">Polabian</text></g>
<g id="n_pomeranian" class="r" transform="translate(471 832.3)"><rect width="53" height="7.3"/><text x="26.5" y="5.9">Pomeranian</text></g>
<g id="n_polish" class="g" transform="translate(414.5 832.3)"><rect width="53" height="7.3"/><text x="26.5" y="5.9">Polish</text></g>
<g id="n_silesian" class="g" transform="translate(414.5 842.3)"><rect width="53" height="7.3"/><text x="26.5" y="5.9">Silesian</text></g>
<g id="n_czech_slovak" class="r" transform="translate(527.5 802.3)"><rect width="53" height="7.3"/><text x="26.5" y="5.9">Czech-Slovak</text></g>
<g id="n_knaanic" class="r" transform="translate(527.5 812.3)"><rect width="53" height="7.3"/><text x="26.5" y="5.9">Knaanic</text></g>
<g id="n_sorbian" class="g" transform="translate(527.5 822.3)"><rect width="53" height="7.3"/><text x="26.5" y="5.9">Sorbian</text></g>
<g id="n_kashubian" class="g" transform="translate(527.5 852.3)"><rect width="53" height="7.3"/><text x="26.5" y="5.9">Kashubian</text></g>
<g id="n_czech" class="g" transform="translate(584 822.3)"><rect width="53" height="7.3"/><text x="26.5" y="5.9">Czech</text></g>
<g id="n_slovak" class="g" transform="translate(584 832.3)"><rect width="53" height="7.3"/><text x="26.5" y="5.9">Slovak</text></g>
<g id="n_western_slavic" class="w i" transform="translate(584 772.3)"><rect width="53" height="7.3"/><text x="26.5" y="5.9">WESTERN</text></g>
<g id="n_slovene" class="g" transform="translate(584 792.3)"><rect width="53" height="7.3"/><text x="26.5" y="5.9">Slovene</text></g>
<g id="n_eastern_slavic" class="w i" transform="translate(697 782.3)"><rect width="53" height="7.3"/><text x="26.5" y="5.9">EASTERN</text></g>
<g id="n_old_church_slavonic" class="r" transform="translate(689 802.3)"><rect width="69" height="7.3"/><text x="34.5" y="5.9">Old Church Slavonic</text></g>
<g id="n_bulgarian" class="g" transform="translate(753.5 822.3)"><rect width="53" height="7.3"/><text x="26.5" y="5.9">Bulgarian</text></g>
<g id="n_church_slavonic" class="g" transform="translate(753.5 832.3)"><rect width="53" height="7.3"/><text x="26.5" y="5.9">Church Slavonic</text></g>
<g id="n_macedonian" class="g" transform="translate(753.5 842.3)"><rect width="53" height="7.3"/><text x="26.5" y="5.9">Macedonian</text></g>
<g id="n_serbo_croatian" class="g" transform="translate(640.5 812.3)"><rect width="53" height="7.3"/><text x="26.5" y="5.9">Serbo-Croatian</text></g>
<g id="n_bosnian" class="g" transform="translate(640.5 832.3)"><rect width="53" height="7.3"/><text x="26.5" y="5.9">Bosnian</text></g>
<g id="n_croatian" class="g" transform="translate(640.5 842.3)"><rect width="53" height="7.3"/><text x="26.5" y="5.9">Croatian</text></g>
<g id="n_serbian" class="g" transform="translate(640.5 852.3)"><rect width="53" height="7.3"/><text x="26.5" y="5.9">Serbian</text></g>
</g>
</svg>
